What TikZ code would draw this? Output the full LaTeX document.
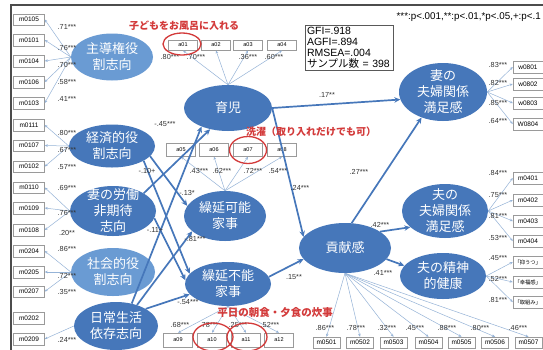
\documentclass[tikz,border=0pt]{standalone}
\usepackage{fontspec}
\setmainfont{Liberation Sans}
\newfontfamily\jp{Noto Sans CJK JP}
\usetikzlibrary{arrows.meta,shapes.geometric}
\definecolor{ell}{HTML}{4677BA}
\definecolor{ellb}{HTML}{6A9BD3}
\definecolor{thinc}{HTML}{95B3D7}
\definecolor{redc}{HTML}{D33A3A}
\definecolor{boxc}{HTML}{9A9A9A}
\definecolor{labc}{HTML}{333333}
\tikzset{
  x=1pt,y=-1pt,
  lat/.style={ellipse,fill=ell,draw=none,inner sep=0pt},
  latb/.style={lat,fill=ellb},
  lt/.style={text=white,font=\jp\fontsize{13}{16}\selectfont,align=center,inner sep=0pt},
  bx/.style={draw=boxc,line width=0.5pt,fill=white,minimum width=31pt,minimum height=11.5pt,inner sep=0pt,font=\fontsize{6.5}{7}\selectfont},
  sbx/.style={bx,minimum width=29pt,font=\fontsize{5.5}{6}\selectfont},
  qbx/.style={bx,minimum width=60pt,minimum height=11.5pt,text width=57pt,align=left,font=\jp\fontsize{5.3}{6}\selectfont},
  thinl/.style={draw=thinc,line width=0.5pt,-{Stealth[length=3pt,width=2.6pt]}},
  thk/.style={draw=ell,line width=1.7pt,-{Stealth[length=6pt,width=5.5pt]}},
  lab/.style={font=\fontsize{7.3}{8}\selectfont,text=labc,inner sep=0pt},
  rc/.style={draw=redc,line width=1.3pt},
  rt/.style={text=redc,font=\jp\bfseries\fontsize{10}{12}\selectfont,inner sep=0pt}
}
\begin{document}
\begin{tikzpicture}
\useasboundingbox (0,0) rectangle (543,349);
\clip (0,0) rectangle (543,349);
\fill[white] (0,0) rectangle (543,349);
\draw[gray!60!black,line width=1.2pt] (11,352) -- (11,5) -- (546,5);

% left boxes
\foreach \n/\y in {m0105/19.5,m0101/40,m0104/61,m0106/82,m0103/103,m0111/125,m0107/145.5,m0102/166.5,m0110/187.5,m0109/208,m0108/230,m0204/251,m0205/272,m0207/291.5,m0202/318,m0209/339}
  \node[bx] (\n) at (29,\y) {\n};
% top/mid/bottom a boxes
\foreach \n/\x in {a01/183,a02/216,a03/248,a04/282}
  \node[sbx,minimum height=10.5pt] (\n) at (\x,45) {\n};
\foreach \n/\x in {a05/181,a06/214,a07/248,a08/282}
  \node[sbx,minimum height=13pt] (\n) at (\x,150) {\n};
\foreach \n/\x in {a09/178,a10/212,a11/246,a12/279}
  \node[sbx,minimum height=14pt] (\n) at (\x,340) {\n};
\foreach \n/\x in {m0501/326.5,m0502/360,m0503/393.5,m0504/428.5,m0505/461.5,m0506/495,m0507/528.5}
  \node[bx,minimum width=27pt,minimum height=11pt] (\n) at (\x,342.5) {\n};
% right boxes
\foreach \n/\y in {w0801/67,w0802/84,w0803/103,W0804/124}
  \node[bx,minimum width=30pt] (\n) at (528,\y) {\n};
\foreach \n/\y in {m0401/178,m0402/200,m0403/221,m0404/241}
  \node[bx,minimum width=30pt,minimum height=12.5pt] (\n) at (528,\y) {\n};
\node[qbx] (q1) at (543,262) {「抑うつ」};
\node[qbx] (q2) at (543,282) {「幸福感」};
\node[qbx] (q3) at (543,302) {「取組み」};

% latent ellipses
\node[latb,minimum width=82pt,minimum height=47pt] (shudo) at (112,57) {};
\node[lat,minimum width=86pt,minimum height=43pt] (keizai) at (112,146) {};
\node[lat,minimum width=86pt,minimum height=50pt] (rodo) at (113,211) {};
\node[latb,minimum width=84pt,minimum height=48pt] (shakai) at (113,272) {};
\node[lat,minimum width=84pt,minimum height=48pt] (nichijo) at (116,326) {};
\node[lat,minimum width=88pt,minimum height=46pt] (ikuji) at (228,108) {};
\node[lat,minimum width=82pt,minimum height=50pt] (kanou) at (225,216) {};
\node[lat,minimum width=86pt,minimum height=44pt] (funou) at (228,284) {};
\node[lat,minimum width=92pt,minimum height=50pt] (koken) at (345,248) {};
\node[lat,minimum width=88pt,minimum height=58pt] (tsuma) at (443,92) {};
\node[lat,minimum width=86pt,minimum height=54pt] (otto) at (445,211) {};
\node[lat,minimum width=86pt,minimum height=46pt] (seishin) at (443,276) {};

\node[lt] at (shudo) {主導権役\\割志向};
\node[lt] at (keizai) {経済的役\\割志向};
\node[lt] at (rodo) {妻の労働\\非期待\\志向};
\node[lt] at (shakai) {社会的役\\割志向};
\node[lt] at (nichijo) {日常生活\\依存志向};
\node[lt] at (ikuji) {育児};
\node[lt] at (kanou) {繰延可能\\家事};
\node[lt] at (funou) {繰延不能\\家事};
\node[lt] at (koken) {貢献感};
\node[lt] at (tsuma) {妻の\\夫婦関係\\満足感};
\node[lt] at (otto) {夫の\\夫婦関係\\満足感};
\node[lt] at (seishin) {夫の精神\\的健康};

% measurement arrows
\foreach \b in {m0105,m0101,m0104,m0106,m0103} \draw[thinl] (shudo.west) -- (\b.east);
\foreach \b in {m0111,m0107,m0102} \draw[thinl] (keizai.west) -- (\b.east);
\foreach \b in {m0110,m0109,m0108} \draw[thinl] (rodo.west) -- (\b.east);
\foreach \b in {m0204,m0205,m0207} \draw[thinl] (shakai.west) -- (\b.east);
\draw[thinl] (nichijo.west) -- (m0209.east);
\foreach \b in {a01,a02,a03,a04} \draw[thinl] (ikuji.north) -- (\b.south);
\foreach \b in {a05,a06,a07,a08} \draw[thinl] (kanou.north) -- (\b.south);
\foreach \b in {a09,a10,a11,a12} \draw[thinl] (funou.south) -- (\b.north);
\foreach \b in {m0501,m0502,m0503,m0504,m0505,m0506,m0507} \draw[thinl] (koken.south) -- (\b.north);
\foreach \b in {w0801,w0802,w0803,W0804} \draw[thinl] (tsuma.east) -- (\b.west);
\foreach \b in {m0401,m0402,m0403,m0404} \draw[thinl] (otto.east) -- (\b.west);
\foreach \b in {q1,q2,q3} \draw[thinl] (seishin.east) -- (\b.west);

% structural arrows
\draw[thk] (ikuji.east) -- (tsuma.190);
\draw[thk] (ikuji.east) -- (koken.165);
\draw[thk] (koken.75) -- (tsuma.230);
\draw[thk] (koken.25) -- (otto.205);
\draw[thk] (koken.-15) -- (seishin.165);
\draw[thk] (funou.10) -- (koken.195);
\draw[thk] (nichijo.55) -- (ikuji.215);
\draw[thk] (nichijo.45) -- (kanou.205);
\draw[thk] (nichijo.30) -- (funou.195);
\draw[thk] (keizai.-15) -- (kanou.165);
\draw[thk] (keizai.-25) -- (funou.165);
\draw[thk] (rodo.30) -- (ikuji.230);
\draw[thk] (rodo.-10) -- (funou.175);

% labels
\foreach \t/\y in {.71***/27,.76***/48,.70***/65,.58***/82,.41***/99,.80***/133,.67***/150,.57***/167,.69***/188,.76***/213,.20**/233,.86***/249,.72***/276,.35***/292,.24***/340}
  \node[lab] at (67,\y) {\t};
\foreach \t/\x in {.80***/170,.70***/196,.36***/248,.60***/274}
  \node[lab] at (\x,57) {\t};
\foreach \t/\x in {.43***/199,.62***/222,.72***/253,.54***/278}
  \node[lab] at (\x,171) {\t};
\foreach \t/\x in {.68***/180,.78***/209,.25***/238,.52***/270}
  \node[lab] at (\x,325) {\t};
\foreach \t/\x in {.86***/325,.78***/356,.32***/387,.45***/415,.88***/447,.80***/480,.46***/518}
  \node[lab] at (\x,328) {\t};
\foreach \t/\y in {.83***/65,.82***/83,.85***/103,.64***/121,.84***/173,.75***/195,.81***/216,.53***/238,.45***/258,.52***/279,.81***/300}
  \node[lab] at (498,\y) {\t};
\node[lab] at (327,95) {.17**};
\node[lab] at (300,188) {.24***};
\node[lab] at (359,172) {.27***};
\node[lab] at (380,225) {.42***};
\node[lab] at (383,273) {.41***};
\node[lab] at (294,277) {.15**};
\node[lab] at (165,124) {-.45***};
\node[lab] at (147,171) {-.10+};
\node[lab] at (187,193) {-.13*};
\node[lab] at (155,230) {-.11+};
\node[lab] at (195,239) {-.81***};
\node[lab] at (188,302) {-.54***};

% red annotations
\draw[rc] (182,44) ellipse (19 and 11);
\draw[rc] (248,150) ellipse (18.5 and 13.5);
\draw[rc] (213,337) ellipse (20 and 14);
\draw[rc] (247,337) ellipse (20 and 14);
\node[rt] (t1) at (184,26) {子どもをお風呂に入れる};
\node[rt] (t2) at (311,132) {洗濯（取り入れだけでも可）};
\node[rt,font=\jp\bfseries\fontsize{10.5}{12}\selectfont] (t3) at (275,313) {平日の朝食・夕食の炊事};

% fit box & note
\node[draw=gray!70!black,line width=0.6pt,minimum width=88pt,minimum height=45pt,text width=84pt,align=left,inner sep=2pt,font=\fontsize{10.5}{11}\selectfont] (fit) at (349,47.5) {GFI=.918\\AGFI=.894\\RMSEA=.004\\{\jp サンプル数} = 398};
\node[font=\fontsize{9.8}{10}\selectfont,inner sep=0pt,anchor=east] (note) at (541,17) {***:p<.001,**:p<.01,*p<.05,+:p<.1};
\end{tikzpicture}
\end{document}
